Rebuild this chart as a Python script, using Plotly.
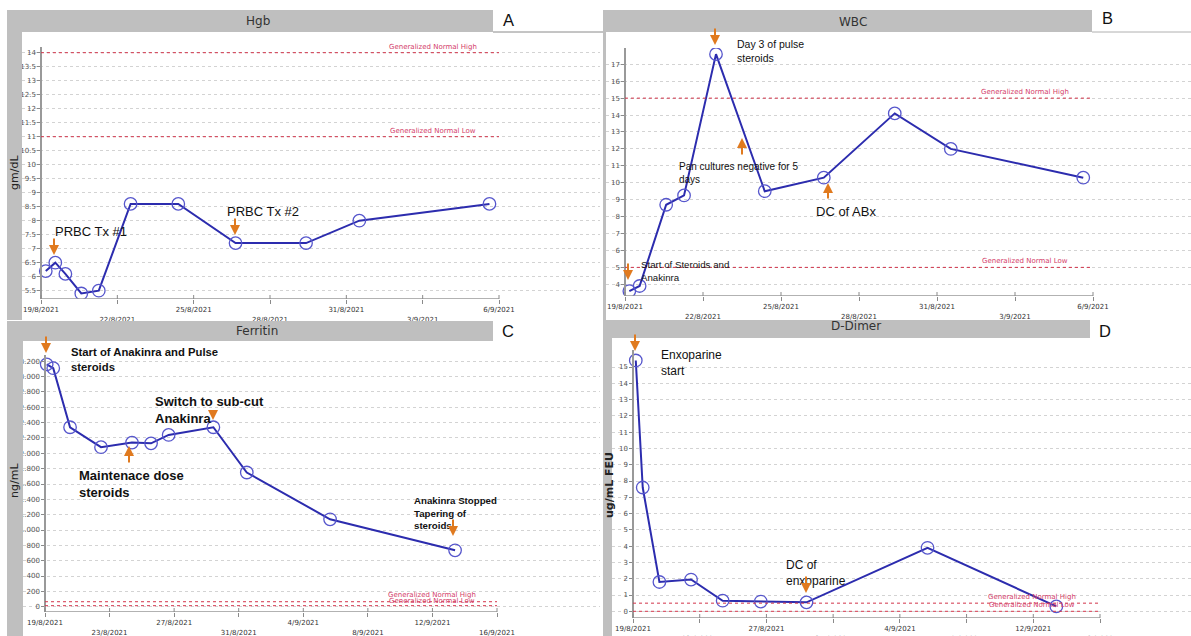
import plotly.graph_objects as go
import pandas as pd

# ---------------- data ----------------
hgb_dates = ["2021-08-19 04:30", "2021-08-19 13:30", "2021-08-19 23:00", "2021-08-20 14:00",
             "2021-08-21 06:30", "2021-08-22 12:30", "2021-08-24 09:30", "2021-08-26 15:30",
             "2021-08-29 10:00", "2021-08-31 12:15", "2021-09-05 15:00"]
hgb = [6.2, 6.5, 6.1, 5.4, 5.5, 8.6, 8.6, 7.2, 7.2, 8.0, 8.6]

wbc_dates = ["2021-08-19 04:00", "2021-08-19 13:30", "2021-08-20 14:00", "2021-08-21 06:30",
             "2021-08-22 12:00", "2021-08-24 09:00", "2021-08-26 15:30", "2021-08-29 09:00",
             "2021-08-31 12:45", "2021-09-05 15:00"]
wbc = [3.6, 3.9, 8.7, 9.25, 17.6, 9.5, 10.3, 14.1, 12.0, 10.3]

ferritin_dates = ["2021-08-19 02:30", "2021-08-19 12:15", "2021-08-20 13:15", "2021-08-22 11:15",
                  "2021-08-24 09:20", "2021-08-25 13:40", "2021-08-26 15:50", "2021-08-29 10:20",
                  "2021-08-31 12:00", "2021-09-05 15:50", "2021-09-13 09:40"]
ferritin = [3160, 3110, 2340, 2080, 2140, 2130, 2240, 2340, 1750, 1140, 735]

ddimer_dates = ["2021-08-19 04:00", "2021-08-19 14:00", "2021-08-20 14:00", "2021-08-22 11:30",
                "2021-08-24 09:00", "2021-08-26 15:50", "2021-08-29 09:40", "2021-09-05 15:50",
                "2021-09-13 09:10"]
ddimer = [15.4, 7.6, 1.8, 1.95, 0.65, 0.6, 0.55, 3.9, 0.3]

# normal ranges [high, low]
hgb_normal = [14, 11]
wbc_normal = [15, 5]
ferritin_normal = [65, 13]
ddimer_normal = [0.5, 0]

# tick labels
ticks_3day = ["2021-08-19", "2021-08-22", "2021-08-25", "2021-08-28", "2021-08-31", "2021-09-03", "2021-09-06"]
ticks_3day_text = ["19/8/2021", "22/8/2021", "25/8/2021", "28/8/2021", "31/8/2021", "3/9/2021", "6/9/2021"]
ticks_4day = ["2021-08-19", "2021-08-23", "2021-08-27", "2021-08-31", "2021-09-04", "2021-09-08",
              "2021-09-12", "2021-09-16"]
ticks_4day_text = ["19/8/2021", "23/8/2021", "27/8/2021", "31/8/2021", "4/9/2021", "8/9/2021",
                   "12/9/2021", "16/9/2021"]
hgb_yticks = [5.5 + 0.5 * i for i in range(18)]
wbc_yticks = list(range(4, 18))
ferritin_yticks = list(range(0, 3201, 200))
ddimer_yticks = list(range(0, 16))

# ---------------- layout helpers ----------------
W, H = 1191, 636
BASE = pd.Timestamp("2021-08-19")


def X(p):
    return p / W


def Y(p):
    return 1 - p / H


def fmt_num(v):
    if isinstance(v, float) and v.is_integer():
        v = int(v)
    return str(v)


panels = [
    dict(name="Hgb", letter="A", dates=hgb_dates, vals=hgb, normal=hgb_normal,
         dom_x=(22, 600), dom_y=(47, 299), t0=41, t1=499, days=18,
         yhi=(14, 52.7), ylo=(5.5, 290.7), xt=ticks_3day, xtt=ticks_3day_text,
         yt=hgb_yticks, ytt=[fmt_num(v) for v in hgb_yticks],
         title_xy=(258, 21), letter_xy=(508, 20),
         lab_x=433, lab_y=(47, 131), ytitle="gm/dL", ytitle_xy=(14, 173), ytitle_bold=False),
    dict(name="WBC", letter="B", dates=wbc_dates, vals=wbc, normal=wbc_normal,
         dom_x=(606, 1191), dom_y=(48, 296), t0=625, t1=1093, days=18,
         yhi=(17, 64.3), ylo=(4, 284.3), xt=ticks_3day, xtt=ticks_3day_text,
         yt=wbc_yticks, ytt=[fmt_num(v) for v in wbc_yticks],
         title_xy=(853, 22), letter_xy=(1107, 18),
         lab_x=1025, lab_y=(92, 261), ytitle=None),
    dict(name="Ferritin", letter="C", dates=ferritin_dates, vals=ferritin, normal=ferritin_normal,
         dom_x=(23, 600), dom_y=(355, 612), t0=45, t1=497, days=28,
         yhi=(3200, 361.3), ylo=(0, 606.7), xt=ticks_4day, xtt=ticks_4day_text,
         yt=ferritin_yticks, ytt=[f"{v:,}".replace(",", ".") for v in ferritin_yticks],
         title_xy=(257, 331), letter_xy=(508, 331),
         lab_x=432, lab_y=(595, 601), ytitle="ng/mL", ytitle_xy=(14, 481), ytitle_bold=False),
    dict(name="D-Dimer", letter="D", dates=ddimer_dates, vals=ddimer, normal=ddimer_normal,
         dom_x=(612, 1191), dom_y=(350, 618), t0=633, t1=1100, days=28,
         yhi=(15, 367), ylo=(0, 611.3), xt=ticks_4day, xtt=ticks_4day_text,
         yt=ddimer_yticks, ytt=[fmt_num(v) for v in ddimer_yticks],
         title_xy=(856, 326), letter_xy=(1105, 331),
         lab_x=1032, lab_y=(597, 605), ytitle="ug/mL FEU", ytitle_xy=(609, 485), ytitle_bold=True),
]

fig = go.Figure()
annotations = []
shapes = []

GRAY = "#bfbfbf"
RED = "#d2344a"
ORANGE = "#e07a1f"

for i, p in enumerate(panels, start=1):
    sfx = "" if i == 1 else str(i)
    ppd = (p["t1"] - p["t0"]) / p["days"]
    xr = [BASE + pd.Timedelta(days=(p["dom_x"][0] - p["t0"]) / ppd),
          BASE + pd.Timedelta(days=(p["dom_x"][1] - p["t0"]) / ppd)]
    vhi, yhi_px = p["yhi"]
    vlo, ylo_px = p["ylo"]
    ppu = (ylo_px - yhi_px) / (vhi - vlo)
    yr = [vlo - (p["dom_y"][1] - ylo_px) / ppu, vhi + (yhi_px - p["dom_y"][0]) / ppu]

    # alternate tick label rows
    ttext = [t if k % 2 == 0 else "<br>" + t for k, t in enumerate(p["xtt"])]

    fig.add_trace(go.Scatter(
        x=p["dates"], y=p["vals"], mode="lines+markers",
        line=dict(color="#2c2cae", width=2),
        marker=dict(symbol="circle-open", size=12.5, color="#5656cc", line=dict(width=1.3)),
        xaxis="x" + sfx, yaxis="y" + sfx, showlegend=False, hoverinfo="x+y"))

    fig.layout["xaxis" + sfx] = dict(
        domain=[X(p["dom_x"][0]), X(p["dom_x"][1])], range=xr, type="date",
        anchor="y" + sfx, showgrid=False, showline=False, zeroline=False, automargin=False,
        tickmode="array", tickvals=p["xt"], ticktext=ttext,
        ticks="outside", ticklen=4, tickwidth=1, tickcolor="#8a8a8a",
        tickfont=dict(family="DejaVu Sans", size=7, color="#333333"))
    fig.layout["yaxis" + sfx] = dict(
        domain=[Y(p["dom_y"][1]), Y(p["dom_y"][0])], range=yr,
        anchor="free", position=X(p["t0"]), automargin=False,
        showline=True, linecolor="#999999", linewidth=1.5,
        showgrid=True, gridcolor="#d3d3d3", griddash="dot", gridwidth=1, zeroline=False,
        tickmode="array", tickvals=p["yt"], ticktext=p["ytt"],
        ticks="outside", ticklen=3, tickcolor="#8a8a8a",
        tickfont=dict(family="DejaVu Sans", size=7, color="#555555"))

    # x axis line from first to last tick
    shapes.append(dict(type="line", xref="x" + sfx, yref="y" + sfx,
                       x0=p["xt"][0], x1=p["xt"][-1], y0=yr[0], y1=yr[0],
                       line=dict(color="#999999", width=1.5), layer="above"))
    # inner half of crossing ticks
    for tv in p["xt"]:
        shapes.append(dict(type="line", xref="x" + sfx, yref="paper",
                           x0=tv, x1=tv, y0=Y(p["dom_y"][1]), y1=Y(p["dom_y"][1] - 4),
                           line=dict(color="#8a8a8a", width=1)))

    # normal lines and labels
    for k, (val, lab) in enumerate(zip(p["normal"], ["Generalized Normal High", "Generalized Normal Low"])):
        shapes.append(dict(type="line", xref="x" + sfx, yref="y" + sfx,
                           x0=p["xt"][0], x1=p["xt"][-1], y0=val, y1=val,
                           line=dict(color=RED, width=1, dash="dot"), layer="above"))
        annotations.append(dict(x=X(p["lab_x"]), y=Y(p["lab_y"][k]), xref="paper", yref="paper",
                                text=lab, showarrow=False, xanchor="center", yanchor="middle",
                                font=dict(family="DejaVu Sans", size=7, color="#d4406a")))

    # title and letter
    annotations.append(dict(x=X(p["title_xy"][0]), y=Y(p["title_xy"][1]), xref="paper", yref="paper",
                            text=p["name"], showarrow=False, xanchor="center", yanchor="middle",
                            font=dict(family="DejaVu Sans", size=12, color="#333333")))
    annotations.append(dict(x=X(p["letter_xy"][0]), y=Y(p["letter_xy"][1]), xref="paper", yref="paper",
                            text=p["letter"], showarrow=False, xanchor="center", yanchor="middle",
                            font=dict(family="Liberation Sans", size=16.5, color="#111111")))
    if p["ytitle"]:
        t = p["ytitle"]
        if p["ytitle_bold"]:
            t = "<b>" + t + "</b>"
        annotations.append(dict(x=X(p["ytitle_xy"][0]), y=Y(p["ytitle_xy"][1]), xref="paper", yref="paper",
                                text=t, showarrow=False, textangle=-90, xanchor="center", yanchor="middle",
                                font=dict(family="DejaVu Sans", size=11, color="#222222")))

# gray frames (title bars + left strips)
frames = [
    (7, 10, 493, 32), (7, 10, 22, 320),
    (603, 10, 1092, 32), (603, 10, 606, 320),
    (7, 321, 493, 341), (7, 321, 23, 636),
    (603, 320, 1090, 338), (603, 320, 612, 636),
]
for x0, y0, x1, y1 in frames:
    shapes.append(dict(type="rect", xref="paper", yref="paper",
                       x0=X(x0), x1=X(x1), y0=Y(y1), y1=Y(y0),
                       fillcolor=GRAY, line=dict(width=0), layer="above"))
shapes.append(dict(type="line", xref="paper", yref="paper", x0=X(493), x1=X(603), y0=Y(32), y1=Y(32),
                   line=dict(color="#8a8a8a", width=1)))
shapes.append(dict(type="line", xref="paper", yref="paper", x0=X(1092), x1=X(1191), y0=Y(32), y1=Y(32),
                   line=dict(color="#b0b0b0", width=1)))

# event text
events = [
    ("PRBC Tx #1", 53, 232, 13, False),
    ("PRBC Tx #2", 225, 212, 13, False),
    ("Day 3 of pulse<br>steroids", 735, 51, 10.5, False),
    ("Pan cultures negative for 5<br>days", 677, 173, 10, False),
    ("Start of Steroids and<br>Anakinra", 639, 270.5, 9.7, False),
    ("DC of ABx", 814, 212, 13, False),
    ("Start of Anakinra and Pulse<br>steroids", 69, 359.5, 11.3, True),
    ("Switch to sub-cut<br>Anakinra", 153, 409.5, 13, True),
    ("Maintenace dose<br>steroids", 77, 484, 13, True),
    ("Anakinra Stopped<br>Tapering of<br>steroids", 412, 512.5, 9.7, True),
    ("Enxoparine<br>start", 659, 362.5, 12, False),
    ("DC of<br>enxoparine", 784, 573, 12, False),
]
for txt, x, y, size, bold in events:
    annotations.append(dict(x=X(x), y=Y(y), xref="paper", yref="paper",
                            text=("<b>" + txt.replace("<br>", "</b><br><b>") + "</b>") if bold else txt,
                            showarrow=False, xanchor="left", yanchor="middle", align="left",
                            font=dict(family="Liberation Sans", size=size, color="#111111")))

# orange arrows: (head x, head y, tail x, tail y)
arrows = [
    (54, 255, 54, 237), (235, 235, 235, 217),
    (715, 45, 715, 27), (628, 280, 628, 262), (742, 138, 742, 156), (828, 183, 828, 200),
    (46, 353, 46, 335), (213, 420, 213, 409), (129, 446, 129, 464), (453, 536, 453, 518),
    (635, 351, 635, 333), (806, 593, 806, 575),
]
for hx, hy, tx, ty in arrows:
    annotations.append(dict(x=X(hx), y=Y(hy), xref="paper", yref="paper", text="",
                            showarrow=True, ax=tx - hx, ay=ty - hy,
                            arrowhead=2, arrowsize=1, arrowwidth=2, arrowcolor=ORANGE))

fig.update_layout(
    width=W, height=H, margin=dict(l=0, r=0, t=0, b=0, autoexpand=False),
    paper_bgcolor="white", plot_bgcolor="white",
    shapes=shapes, annotations=annotations, showlegend=False,
)

fig.write_html("out.html", config={"displayModeBar": False},
               post_script="document.body.style.margin='0';document.body.style.overflow='hidden';")
